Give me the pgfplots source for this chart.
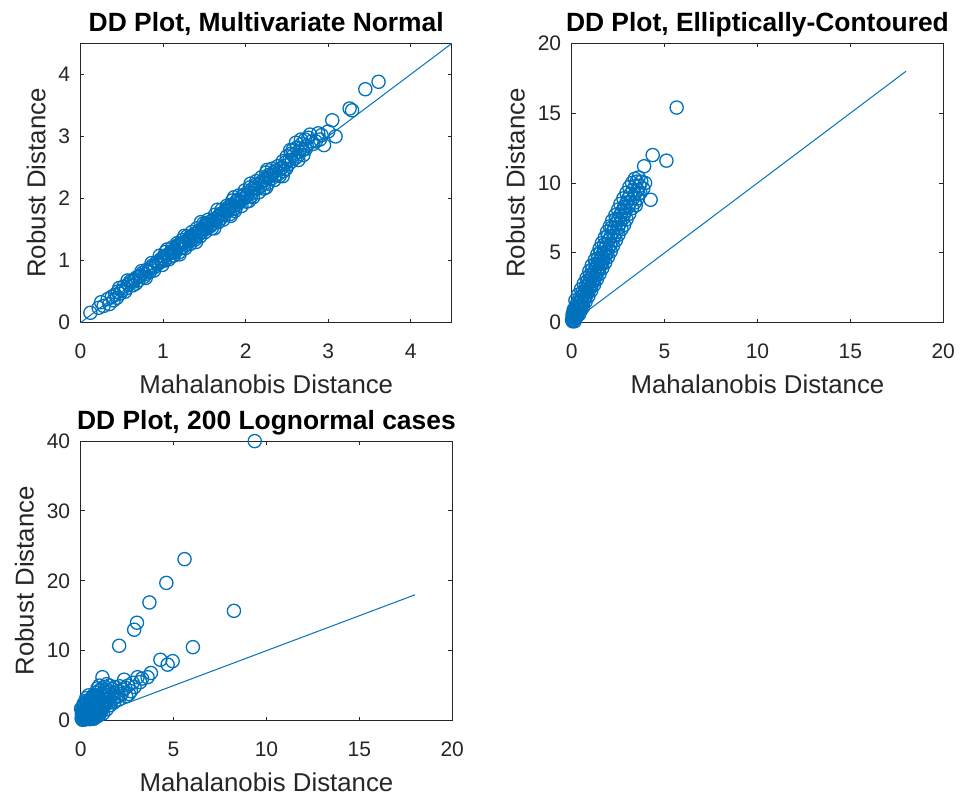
\documentclass[border=0pt]{standalone}
\usepackage{fontspec}
\setmainfont{Liberation Sans}
\usepackage{pgfplots}
\pgfplotsset{compat=1.18}
\definecolor{mblue}{HTML}{0072BD}
\definecolor{axgray}{HTML}{262626}
\pgfplotsset{
  ddstyle/.style={
    scale only axis,
    width=185.75pt, height=139.7pt,
    axis line style={axgray, line width=0.5pt},
    every tick/.style={axgray, line width=0.5pt},
    major tick length=2pt,
    tick align=inside,
    /pgf/number format/assume math mode=true,
    tick label style={font=\fontsize{10.5}{12}\selectfont, text=axgray},
    xticklabel style={anchor=base, yshift=-18pt},
    yticklabel style={anchor=east, xshift=-1.75pt},
    label style={font=\fontsize{12.9}{15}\selectfont, text=axgray},
    xlabel style={at={(axis description cs:0.5,0)}, anchor=base, yshift=-35.25pt},
    ylabel style={at={(axis description cs:-0.164,0.5)}, anchor=north},
    every axis title/.style={font=\bfseries\fontsize{13.2}{15}\selectfont, text=black, at={(axis description cs:0.5,1)}, anchor=base, yshift=6pt},
    xlabel={Mahalanobis Distance},
    ylabel={Robust Distance},
    scaled ticks=false,
  },
  pts/.style={only marks, mark=o, mblue, mark size=3.3pt, mark options={line width=0.65pt}},
  ln/.style={no marks, mblue, line width=0.5pt},
}
\begin{document}
\begin{tikzpicture}
\useasboundingbox (0,0) rectangle (481.5pt,397pt);
% ---------- Plot 1 ----------
\begin{axis}[ddstyle, at={(40.25pt,235.65pt)}, anchor=south west,
  xmin=0, xmax=4.5, ymin=0, ymax=4.5,
  xtick={0,1,2,3,4}, ytick={0,1,2,3,4},
  title={DD Plot, Multivariate Normal}]
\addplot[pts] coordinates {
(0.12,0.16) (0.22,0.24) (0.28,0.27) (0.33,0.38) (0.38,0.42) (0.40,0.36) (0.42,0.45) (0.45,0.50)
(0.48,0.47) (0.50,0.52) (0.52,0.58) (0.55,0.55) (0.58,0.62) (0.60,0.66) (0.62,0.68) (0.63,0.60)
(0.66,0.70) (0.68,0.73) (0.70,0.68) (0.71,0.74) (0.73,0.76) (0.75,0.80) (0.77,0.74) (0.78,0.78)
(0.80,0.85) (0.82,0.83) (0.84,0.82) (0.85,0.88) (0.87,0.92) (0.90,0.90) (0.92,0.97) (0.93,0.94)
(0.95,0.96) (0.97,1.02) (0.98,0.99) (1.00,1.04) (1.01,1.07) (1.02,1.00) (1.04,1.08) (1.06,1.10)
(1.08,1.06) (1.09,1.12) (1.10,1.15) (1.12,1.13) (1.14,1.18) (1.15,1.14) (1.16,1.16) (1.18,1.22)
(1.18,1.25) (1.20,1.24) (1.21,1.27) (1.22,1.20) (1.24,1.28) (1.25,1.22) (1.26,1.30) (1.28,1.26)
(1.30,1.34) (1.31,1.31) (1.32,1.37) (1.34,1.33) (1.36,1.40) (1.37,1.36) (1.38,1.43) (1.40,1.39)
(1.42,1.46) (1.43,1.42) (1.44,1.48) (1.46,1.45) (1.47,1.50) (1.48,1.52) (1.50,1.55) (1.52,1.51)
(1.52,1.60) (1.53,1.56) (1.54,1.58) (1.56,1.62) (1.57,1.55) (1.58,1.57) (1.60,1.64) (1.61,1.60)
(1.62,1.67) (1.64,1.63) (1.65,1.67) (1.66,1.70) (1.68,1.72) (1.69,1.75) (1.70,1.68) (1.72,1.76)
(1.74,1.73) (1.75,1.80) (1.78,1.79) (1.79,1.86) (1.80,1.84) (1.83,1.90) (1.85,1.83) (1.86,1.88)
(1.88,1.94) (1.88,1.85) (1.90,1.98) (1.91,1.92) (1.93,1.95) (1.96,2.03) (1.97,1.99) (1.98,2.06)
(2.00,2.02) (2.02,2.06) (2.03,2.10) (2.06,2.08) (2.07,2.04) (2.08,2.15) (2.11,2.18) (2.12,2.22)
(2.14,2.16) (2.17,2.24) (2.18,2.20) (2.20,2.28) (2.23,2.25) (2.24,2.30) (2.26,2.34) (2.28,2.38)
(2.30,2.36) (2.31,2.32) (2.34,2.42) (2.36,2.38) (2.37,2.45) (2.40,2.40) (2.42,2.47) (2.44,2.50)
(2.46,2.44) (2.48,2.58) (2.50,2.68) (2.52,2.55) (2.53,2.62) (2.55,2.72) (2.57,2.78) (2.58,2.70)
(2.60,2.65) (2.62,2.82) (2.63,2.68) (2.65,2.75) (2.66,2.80) (2.68,2.88) (2.70,2.70) (2.72,2.95)
(2.74,2.85) (2.78,3.03) (2.80,2.92) (2.85,2.92) (2.92,3.02) (2.95,2.86) (3.05,3.26) (3.09,3.00)
(3.26,3.45) (3.29,3.42) (3.45,3.76) (3.61,3.88)
(0.25,0.33) (0.35,0.30) (0.44,0.40) (0.47,0.56) (0.54,0.50) (0.57,0.68) (0.64,0.66) (0.67,0.63)
(0.74,0.83) (0.79,0.72) (0.86,0.96) (0.89,0.84) (0.96,1.08) (0.99,0.93) (1.03,1.14) (1.07,1.02)
(1.11,1.21) (1.13,1.08) (1.17,1.28) (1.19,1.13) (1.23,1.33) (1.27,1.20) (1.29,1.39) (1.33,1.27)
(1.35,1.46) (1.39,1.34) (1.41,1.52) (1.45,1.39) (1.49,1.60) (1.51,1.46) (1.55,1.66) (1.59,1.52)
(1.63,1.74) (1.67,1.62) (1.71,1.82) (1.73,1.66) (1.77,1.88) (1.81,1.75) (1.84,1.97) (1.87,1.80)
(1.92,2.05) (1.95,1.88) (1.99,2.13) (2.01,1.95) (2.05,2.18) (2.09,2.02) (2.13,2.28) (2.16,2.10)
(2.19,2.34) (2.22,2.16) (2.25,2.42) (2.27,2.24) (2.32,2.48) (2.35,2.30) (2.39,2.52) (2.41,2.36)
(2.45,2.60) (2.49,2.48) (2.54,2.78) (2.56,2.60) (2.61,2.90) (2.64,2.62) (2.67,2.95) (2.69,2.78)
(2.73,2.80) (2.76,2.98) (2.82,2.88) (2.88,3.05) (2.90,2.95) (3.00,3.08)
(1.05,1.18) (1.26,1.40) (1.46,1.62) (1.66,1.82) (1.86,2.02) (2.06,2.24) (2.26,2.46)
(1.20,1.10) (1.40,1.30) (1.62,1.52) (1.82,1.72) (2.04,1.96) (2.25,2.18) (2.45,2.36)
};
\addplot[ln] coordinates {(0,0) (4.5,4.5)};
\end{axis}
% ---------- Plot 2 ----------
\begin{axis}[ddstyle, at={(285.85pt,235.65pt)}, anchor=south west,
  xmin=0, xmax=20, ymin=0, ymax=20,
  xtick={0,5,10,15,20}, ytick={0,5,10,15,20},
  ylabel style={at={(axis description cs:-0.196,0.5)}},
  title={DD Plot, Elliptically-Contoured}]
\addplot[pts] coordinates {
(0.05,0.1) (0.15,0.1) (0.02,0.2) (0.10,0.2) (0.08,0.3) (0.20,0.3) (0.05,0.4) (0.25,0.4) (0.15,0.4)
(0.10,0.5) (0.30,0.5) (0.18,0.6) (0.05,0.6) (0.25,0.7) (0.12,0.7) (0.30,0.8) (0.20,0.8)
(0.22,0.9) (0.38,0.9) (0.30,1.0) (0.45,1.0) (0.15,1.0) (0.35,1.2) (0.50,1.2) (0.42,1.4) (0.60,1.4)
(0.30,1.4) (0.50,1.6) (0.65,1.6) (0.55,1.8) (0.72,1.8) (0.45,1.8) (0.62,2.0) (0.80,2.0)
(0.70,2.2) (0.88,2.2) (0.58,2.2) (0.78,2.4) (0.95,2.4) (0.85,2.6) (1.05,2.6) (0.75,2.6)
(0.90,2.8) (1.10,2.8) (0.98,3.0) (1.18,3.0) (0.85,3.0) (1.05,3.2) (1.25,3.2) (1.12,3.4)
(1.30,3.4) (0.98,3.4) (1.20,3.6) (1.38,3.6) (1.25,3.8) (1.45,3.8) (1.10,3.8) (1.32,4.0)
(1.52,4.0) (1.40,4.2) (1.60,4.2) (1.28,4.2) (1.50,4.4) (1.68,4.4) (1.55,4.6) (1.72,4.6)
(1.42,4.6) (1.62,4.8) (1.80,4.8) (1.70,5.0) (1.90,5.0) (1.55,5.0) (1.78,5.3) (1.98,5.3)
(1.88,5.6) (2.08,5.6) (1.75,5.6) (2.00,5.9) (2.20,5.9) (2.10,6.2) (2.30,6.2) (1.95,6.2)
(2.20,6.5) (2.42,6.5) (2.30,6.8) (2.50,6.8) (2.15,6.8) (2.40,7.1) (2.60,7.1) (2.50,7.4)
(2.72,7.4) (2.38,7.4) (2.60,7.7) (2.80,7.7) (2.72,8.0) (2.90,8.0) (2.85,8.2) (2.82,8.3)
(3.05,8.3) (2.95,8.6) (3.15,8.6) (3.40,8.6) (3.05,8.9) (3.30,8.9) (3.15,9.2) (3.40,9.2)
(3.60,9.2) (3.30,9.5) (3.55,9.5) (3.42,9.8) (3.65,9.8) (3.50,10.1) (3.75,10.1) (3.60,10.4)
(3.90,11.2) (4.36,12.0) (5.10,11.6) (4.25,8.8) (5.65,15.4)
(0.40,0.6) (0.10,0.9) (0.50,0.9) (0.25,1.2) (0.60,1.1) (0.20,1.6) (0.75,1.5) (0.35,2.0)
(0.90,1.9) (0.50,2.4) (1.05,2.3) (0.65,2.8) (1.20,2.7) (0.80,3.2) (1.35,3.1) (0.95,3.7)
(1.50,3.5) (1.08,4.1) (1.65,3.9) (1.25,4.5) (1.80,4.3) (1.38,4.9) (1.95,4.7) (1.50,5.3)
(2.10,5.1) (1.62,5.7) (2.22,5.5) (1.78,6.1) (2.38,5.9) (1.90,6.5) (2.52,6.3) (2.05,6.9)
(2.68,6.7) (2.18,7.3) (2.82,7.0) (2.35,7.7) (2.95,7.4) (2.50,8.1) (3.10,7.8) (2.62,8.5)
(3.25,8.2) (2.78,8.9) (3.45,8.4) (2.95,9.3) (3.55,8.9) (3.10,9.7) (3.70,9.3) (3.25,10.0)
(3.85,9.6) (3.40,10.3) (3.95,10.0)
};
\addplot[ln] coordinates {(0,0) (18,18)};
\end{axis}
% ---------- Plot 3 ----------
\begin{axis}[ddstyle, at={(40.35pt,36.75pt)}, anchor=south west,
  xmin=0, xmax=20, ymin=0, ymax=40,
  xtick={0,5,10,15,20}, ytick={0,10,20,30,40},
  ylabel style={at={(axis description cs:-0.196,0.5)}},
  title={DD Plot, 200 Lognormal cases}]
\addplot[pts] coordinates {
(0.05,0.3) (0.10,0.8) (0.08,1.5) (0.12,2.0) (0.02,1.7) (0.15,0.5) (0.20,1.2) (0.22,0.4)
(0.25,2.2) (0.28,1.0) (0.30,0.6) (0.32,1.6) (0.35,2.6) (0.38,0.9) (0.40,1.4) (0.42,0.5)
(0.45,2.0) (0.48,3.0) (0.50,1.1) (0.52,0.7) (0.55,1.7) (0.58,2.5) (0.60,1.3) (0.62,3.3)
(0.65,0.9) (0.68,2.0) (0.70,2.9) (0.72,1.5) (0.75,3.6) (0.78,1.1) (0.80,2.4) (0.82,3.1)
(0.85,1.8) (0.88,4.0) (0.90,1.3) (0.92,2.7) (0.95,3.5) (0.98,2.1) (1.00,4.3) (1.02,1.6)
(1.05,3.0) (1.08,2.4) (1.10,3.8) (1.12,1.9) (1.15,4.6) (1.17,6.2) (1.20,2.7) (1.22,3.4)
(1.25,2.1) (1.28,4.1) (1.30,3.0) (1.35,2.5) (1.38,3.7) (1.42,4.4) (1.45,2.9) (1.50,3.3)
(1.55,4.0) (1.60,2.7) (1.65,3.6) (1.70,4.5) (1.75,3.1) (1.80,3.9) (1.85,4.8) (1.90,3.4)
(2.00,4.2) (2.05,3.0) (2.10,4.9) (2.20,3.8) (2.34,5.85) (2.30,4.4) (2.45,3.5) (2.55,5.0)
(2.70,4.2) (2.80,5.4) (3.06,6.2) (3.20,5.5) (3.78,6.8) (3.60,6.2) (4.29,8.7) (4.68,8.0)
(4.95,8.5) (6.04,10.5) (2.07,10.7) (2.88,13.0) (3.03,14.0) (3.70,16.9) (4.61,19.7) (5.59,23.1)
(9.37,40.0) (8.25,15.7)
(0.10,0.1) (0.15,0.2) (0.20,0.3) (0.25,0.15) (0.30,0.35) (0.35,0.25) (0.40,0.45) (0.18,0.9)
(0.27,1.35) (0.33,1.9) (0.44,2.3) (0.50,2.7) (0.06,1.0) (0.12,1.3) (0.55,0.4) (0.60,0.8)
(0.65,1.6) (0.70,0.6) (0.75,2.2) (0.83,1.4) (0.90,2.0) (0.97,1.2) (1.03,2.9) (1.12,1.3)
(1.20,1.8) (0.45,1.0) (0.52,1.9) (0.62,2.3) (0.72,2.6) (0.80,3.3) (0.68,3.6) (0.58,1.0)
(0.38,1.7) (0.28,2.8) (0.16,2.4) (0.50,0.2) (0.60,0.3) (0.70,0.25) (0.80,0.5) (0.90,0.6)
(1.00,0.8)
(1.30,4.8) (1.40,5.2) (1.55,5.0) (1.00,5.0) (0.90,4.6) (1.60,2.2) (1.80,2.6) (2.00,3.4)
(2.40,4.7) (2.60,3.8) (2.90,4.8) (3.30,6.0) (1.20,1.0) (1.40,1.6) (0.30,3.2) (0.42,3.6)
};
\addplot[ln] coordinates {(0,0) (18,18)};
\end{axis}
\end{tikzpicture}
\end{document}
